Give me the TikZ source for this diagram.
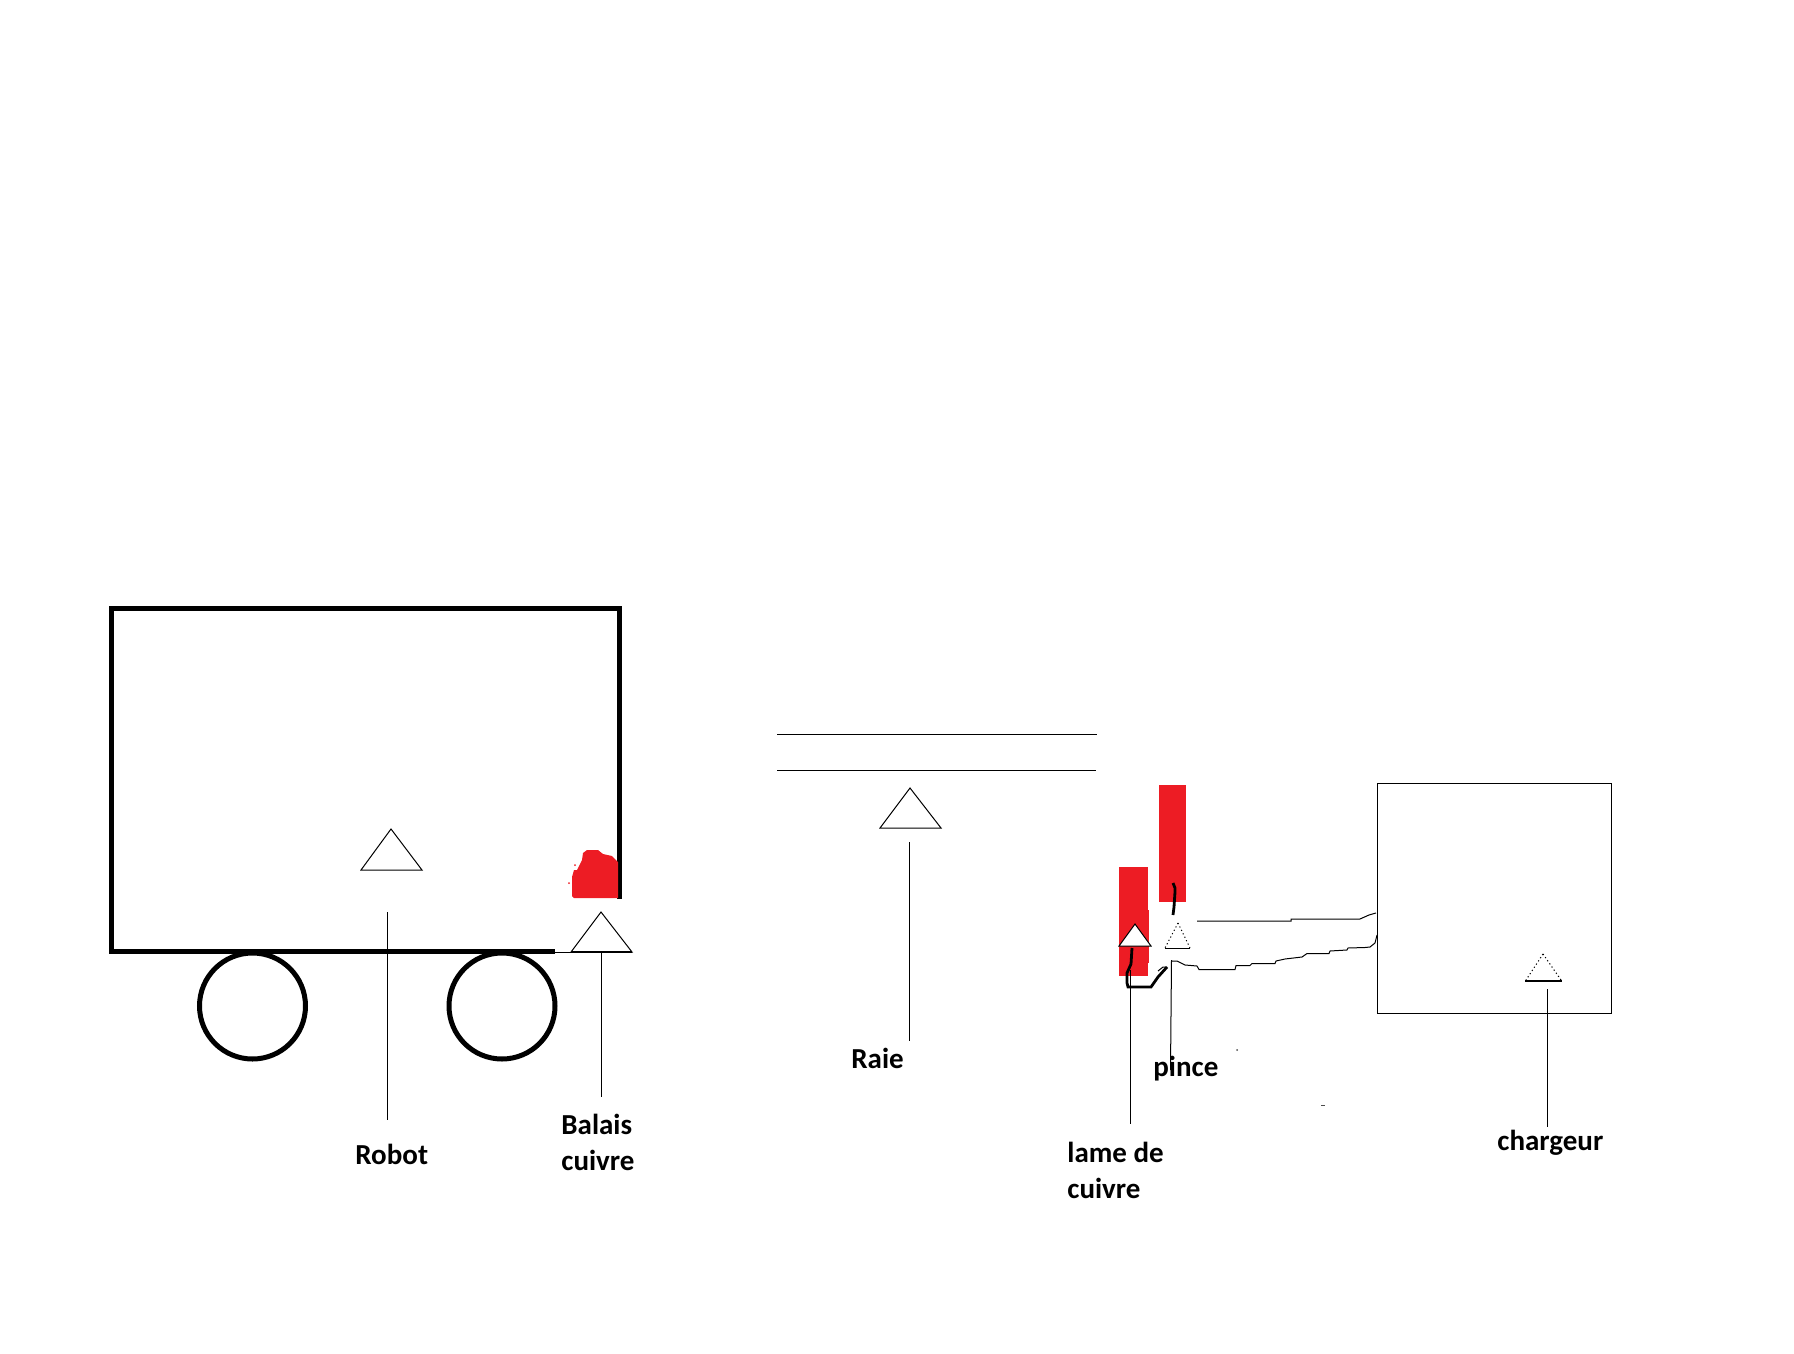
\documentclass[tikz,border=0pt]{standalone}
\usepackage{fontspec}
\setmainfont{Carlito}
\definecolor{rouge}{RGB}{237,28,36}
\tikzset{
  trait/.style={black,line width=.5pt},
  gros/.style={black,line width=2.5pt},
  moyen/.style={black,line width=1pt},
  pointille/.style={black,line width=.5pt,dash pattern=on .6pt off 1.3pt},
  label/.style={anchor=base west,inner sep=0pt,font=\fontsize{14.5}{18}\selectfont\bfseries,align=left},
}
\begin{document}
\begin{tikzpicture}[x=.5pt,y=-.5pt]
  \useasboundingbox (0,0) rectangle (1794,1354);

  % robot
  \draw[gros](555,951) -- (111,951) -- (111,608.5) -- (619.5,608.5) -- (619.5,899);
  \draw[trait](555,952.5) -- (571,952.5);
  \draw[gros](252.5,1006) circle(53);
  \draw[gros](502,1006) circle(53);
  \path[fill=rouge] (572,896) -- (572,877) -- (574,870) -- (577,870) -- (582,860) -- (583,853)
    -- (587,850) -- (598,850) -- (603,854) -- (612,856) -- (618,862) -- (618,898) -- (574,898) -- cycle;
  \path[fill=rouge] (569,883) circle(1) (575,865) circle(1);

  \draw[trait](391,829) -- (422,870) -- (361,870) -- cycle;
  \coordinate (robotHaut) at (387.5,912);
  \coordinate (robotBas) at (387.5,1120);
  \draw[trait](robotHaut) -- (robotBas);
  \node[label] (robot) at (355,1164) {Robot};

  \draw[trait](601,912) -- (632,952) -- (571,952) -- cycle;
  \draw[moyen](571,952) -- (632,952);
  \coordinate (balaisHaut) at (601.5,952);
  \coordinate (balaisBas) at (601.5,1097);
  \draw[trait](balaisHaut) -- (balaisBas);
  \node[label] (balais) at (561,1170) {Balais\\cuivre};

  % raie
  \coordinate (raieA) at (777,734.5);
  \coordinate (raieB) at (1097,734.5);
  \coordinate (raieC) at (777,770.5);
  \coordinate (raieD) at (1096,770.5);
  \draw[trait](raieA) -- (raieB);
  \draw[trait](raieC) -- (raieD);
  \draw[trait](910,788) -- (941,828) -- (880,828) -- cycle;
  \coordinate (raieHaut) at (909.5,842);
  \coordinate (raieBas) at (909.5,1041);
  \draw[trait](raieHaut) -- (raieBas);
  \node[label] (raie) at (851,1068) {Raie};

  % lame et pince
  \path[fill=rouge] (1119,867) rectangle (1148,976);
  \path[fill=rouge] (1148,910) rectangle (1149,963);
  \path[fill=rouge] (1159,785) rectangle (1186,902);

  \draw[trait,fill=white](1135,924) -- (1151,946) -- (1119,946) -- cycle;
  \draw[pointille](1178,923) -- (1190,948);
  \draw[pointille](1178,923) -- (1165,948);
  \draw[trait](1165,948.5) -- (1190,948.5);

  \draw[moyen,line width=1.4pt](1173,883) -- (1175,888) -- (1175,892) -- (1174,907) -- (1173,915);
  \draw[moyen,line width=1.4pt](1167,967) -- (1158,977) -- (1151,987) -- (1128,987) -- (1127,983)
    -- (1127,973) -- (1131,964) -- (1132,948);

  \coordinate (lameHaut) at (1130.5,970);
  \coordinate (lameBas) at (1130.5,1124);
  \draw[trait](lameHaut) -- (lameBas);
  \node[label] (lame) at (1067,1198) {lame de\\cuivre};

  \coordinate (pinceHaut) at (1171.5,960);
  \coordinate (pinceBas) at (1170.5,1070);
  \draw[trait](pinceHaut) -- (pinceBas);
  \node[label] (pince) at (1153,1076) {pince};

  % fils
  \draw[trait](1197,921) -- (1291,921) -- (1291,919) -- (1360,919) -- (1369,915) -- (1376,913);
  \draw[trait](1158,971) -- (1163,967) -- (1167,967);
  \draw[trait](1171,961) -- (1177,961) -- (1185,965) -- (1197,966) -- (1199,969.5) -- (1235,969.5)
    -- (1236,965.5) -- (1250,965.5) -- (1252,963.5) -- (1275,963.5) -- (1276,961) -- (1285,959)
    -- (1302,957) -- (1307,953.5) -- (1329,953.5) -- (1330,951) -- (1347,950) -- (1348,948)
    -- (1365,947.5) -- (1370,947) -- (1375,943) -- (1377,935);

  % chargeur
  \draw[trait](1377.5,783) rectangle (1611.5,1013);
  \draw[pointille](1543,954) -- (1561,980);
  \draw[pointille](1543,954) -- (1526,980);
  \draw[moyen](1525,981) -- (1562,981);
  \coordinate (chargeurHaut) at (1547.5,989);
  \coordinate (chargeurBas) at (1547.5,1127);
  \draw[trait](chargeurHaut) -- (chargeurBas);
  \node[label] (chargeur) at (1497,1150) {chargeur};

  % petits points
  \path[fill=black!70] (1237,1050) circle(1);
  \path[fill=black!70] (1321,1105) rectangle (1325,1106);
\end{tikzpicture}
\end{document}
